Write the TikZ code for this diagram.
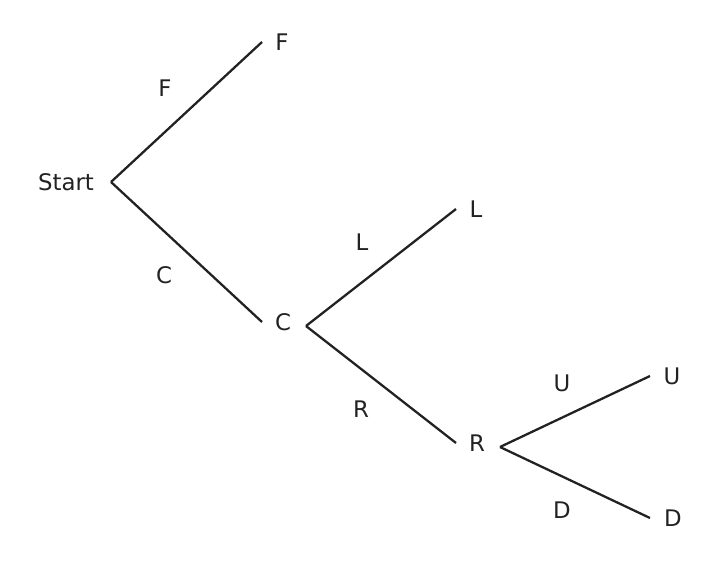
\documentclass[tikz,border=0pt]{standalone}
\usepackage{fontspec}
\setmainfont{DejaVu Sans}
\usetikzlibrary{positioning}
\definecolor{ink}{HTML}{222222}
\tikzset{lbl/.style={text=ink,font=\fontsize{13}{15}\selectfont},
	branch/.style={draw=ink,line width=1.3pt}}

\begin{document}
\begin{tikzpicture}[x=0.02cm,y=-0.02cm]
	\useasboundingbox (0,0) rectangle (717,561);
	% line ends
	\coordinate (s0) at (111,182);
	\coordinate (f1) at (262,42);
	\coordinate (c1) at (262,322);
	\coordinate (c0) at (306,326);
	\coordinate (l1) at (456,209);
	\coordinate (r1) at (456,443);
	\coordinate (r0) at (500,447);
	\coordinate (u1) at (650,376);
	\coordinate (d1) at (650,518);

	\begin{scope}[every node/.style={lbl}]
		\node (Start) at (66,182) {Start};
		\node (F) at (282,42) {F};
		\node (C) at (283,322) {C};
		\node (L) at (476,209) {L};
		\node (R) at (477,443) {R};
		\node (U) at (672,376) {U};
		\node (D) at (673,518) {D};
		% branch labels
		\node (eF) at (165,88) {F};
		\node (eC) at (164,275) {C};
		\node (eL) at (362,242) {L};
		\node (eR) at (361,409) {R};
		\node (eU) at (562,383) {U};
		\node (eD) at (562,510) {D};
	\end{scope}

	\path[branch] (s0) -- (f1);
	\path[branch] (s0) -- (c1);
	\path[branch] (c0) -- (l1);
	\path[branch] (c0) -- (r1);
	\path[branch] (r0) -- (u1);
	\path[branch] (r0) -- (d1);
\end{tikzpicture}
\end{document}
